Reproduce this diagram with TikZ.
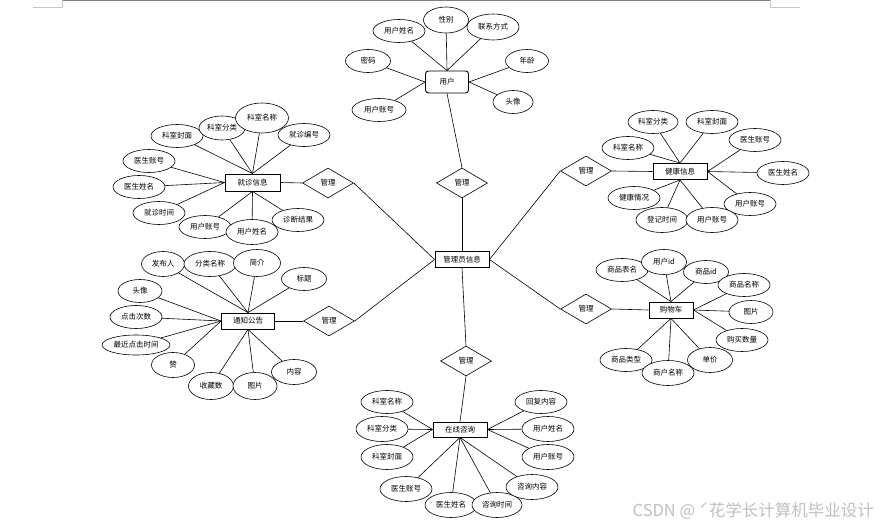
\documentclass[tikz,border=0pt]{standalone}
\usepackage{fontspec}
\newfontfamily\cjk{Noto Sans CJK SC}
\usepackage{tikz}
\usetikzlibrary{shapes.geometric}

\tikzset{
  ent/.style={draw, line width=0.9pt, minimum width=54pt, minimum height=16pt, inner sep=1pt, font=\cjk\fontsize{7.5}{8}\selectfont},
  attr/.style={draw, fill=white, ellipse, line width=0.6pt, minimum width=52pt, minimum height=23pt, inner sep=0pt, font=\cjk\fontsize{7.5}{8}\selectfont},
  rel/.style={draw, fill=white, diamond, line width=0.6pt, minimum width=51pt, minimum height=30pt, inner sep=0pt, font=\cjk\fontsize{7.5}{8}\selectfont},
  link/.style={line width=0.6pt}
}

\begin{document}
\begin{tikzpicture}[x=1pt, y=-1pt]
  \useasboundingbox (0,0) rectangle (882,529);
  \draw[line width=1.5pt, gray] (62,0.75) -- (770,0.75);
  \draw[line width=0.8pt, gray!45] (33,7) -- (62,7) -- (62,0);
  \draw[line width=0.8pt, gray!45] (770,0) -- (770,7) -- (800,7);

  \node[ent] (admin) at (462,259.5) {管理员信息};
  \node[rel] (dtop) at (462,183) {管理};
  \node[rel] (dlu) at (328,183) {管理};
  \node[rel] (dru) at (586,171) {管理};
  \node[rel] (dll) at (329,321) {管理};
  \node[rel] (drl) at (586,309) {管理};
  \node[rel] (dbot) at (466,361) {管理};

  \node[ent, rounded corners=3pt, minimum width=43pt, minimum height=22pt] (yh) at (447,82) {用户};
  \node[attr] (yh1) at (399,31) {用户姓名};
  \node[attr, minimum width=45pt, minimum height=26pt] (yh2) at (446,20) {性别};
  \node[attr, minimum height=26pt] (yh3) at (493,27) {联系方式};
  \node[attr, minimum width=45pt] (yh4) at (368,61) {密码};
  \node[attr, minimum width=43pt] (yh5) at (527,61) {年龄};
  \node[attr, minimum width=54pt] (yh6) at (379,110) {用户账号};
  \node[attr, minimum width=40pt] (yh7) at (513,102) {头像};

  \node[ent, minimum width=55pt, minimum height=17pt] (jz) at (252.5,182.5) {就诊信息};
  \node[attr] (jz1) at (177,136) {科室封面};
  \node[attr, minimum width=46pt, minimum height=24pt] (jz2) at (222,128) {科室分类};
  \node[attr, minimum width=53pt, minimum height=30pt] (jz3) at (262,118) {科室名称};
  \node[attr] (jz4) at (304,135) {就诊编号};
  \node[attr] (jz5) at (149,161) {医生账号};
  \node[attr] (jz6) at (139,187) {医生姓名};
  \node[attr] (jz7) at (159,213) {就诊时间};
  \node[attr] (jz8) at (205,227) {用户账号};
  \node[attr, minimum height=25pt] (jz9) at (252,232) {用户姓名};
  \node[attr] (jz10) at (298,220) {诊断结果};

  \node[ent] (jk) at (680,171.5) {健康信息};
  \node[attr, minimum width=50pt] (jk1) at (653,122) {科室分类};
  \node[attr] (jk2) at (712,122) {科室封面};
  \node[attr] (jk3) at (755,140) {医生账号};
  \node[attr] (jk4) at (628,148) {科室名称};
  \node[attr] (jk5) at (783,173) {医生姓名};
  \node[attr] (jk6) at (634,198) {健康情况};
  \node[attr] (jk9) at (750,204) {用户账号};
  \node[attr, minimum height=25pt] (jk7) at (662,220) {登记时间};
  \node[attr, minimum height=25pt] (jk8) at (712,220) {用户账号};

  \node[ent, minimum width=53pt] (tz) at (248,321) {通知公告};
  \node[attr, minimum width=43pt, minimum height=25pt] (tz1) at (163,264) {发布人};
  \node[attr, minimum height=25pt] (tz2) at (210,264) {分类名称};
  \node[attr, minimum width=47pt, minimum height=27pt] (tz3) at (257,263) {简介};
  \node[attr, minimum width=45pt] (tz4) at (304,279) {标题};
  \node[attr, minimum width=44pt] (tz5) at (140,291) {头像};
  \node[attr] (tz6) at (136,317) {点击次数};
  \node[attr, minimum width=68pt, minimum height=20pt] (tz7) at (136,345) {最近点击时间};
  \node[attr, minimum width=43pt, minimum height=25pt] (tz8) at (173,365) {赞};
  \node[attr, minimum width=45pt, minimum height=27pt] (tz9) at (211,386) {收藏数};
  \node[attr, minimum width=44pt, minimum height=27pt] (tz10) at (255,386) {图片};
  \node[attr, minimum width=45pt, minimum height=25pt] (tz11) at (294,372) {内容};

  \node[ent, minimum width=44pt] (gw) at (671,310) {购物车};
  \node[attr] (gw1) at (622,270) {商品表名};
  \node[attr, minimum width=45pt, minimum height=25pt] (gw2) at (664,262) {用户id};
  \node[attr, minimum width=45pt] (gw3) at (706,272) {商品id};
  \node[attr] (gw4) at (744,285) {商品名称};
  \node[attr, minimum width=44pt] (gw5) at (751,312) {图片};
  \node[attr] (gw6) at (742,340) {购买数量};
  \node[attr] (gw9) at (626,360) {商品类型};
  \node[attr, minimum width=45pt, minimum height=25pt] (gw7) at (710,360) {单价};
  \node[attr, minimum height=25pt] (gw8) at (668,373) {商户名称};

  \node[ent, minimum height=15pt] (zx) at (460,429.5) {在线咨询};
  \node[attr] (zx1) at (387,402) {科室名称};
  \node[attr, minimum height=25pt] (zx2) at (382,429) {科室分类};
  \node[attr, minimum height=25pt] (zx3) at (387,457) {科室封面};
  \node[attr, minimum height=25pt] (zx4) at (406,489) {医生账号};
  \node[attr, minimum height=25pt] (zx5) at (451,505) {医生姓名};
  \node[attr, minimum width=50pt, minimum height=25pt] (zx6) at (497,505) {咨询时间};
  \node[attr, minimum height=25pt] (zx7) at (532,487) {咨询内容};
  \node[attr, minimum height=25pt] (zx8) at (548,457) {用户账号};
  \node[attr, minimum height=25pt] (zx9) at (548,429) {用户姓名};
  \node[attr] (zx10) at (541,402) {回复内容};

  \draw[link] (dtop.south) -- (admin.north);
  \draw[link] (dlu.east) -- (admin.west);
  \draw[link] (dll.east) -- (admin.west);
  \draw[link] (dru.west) -- (admin.east);
  \draw[link] (drl.west) -- (admin.east);
  \draw[link] (dbot.north) -- (admin.south);

  \draw[link] (yh.south) -- (dtop.north);
  \draw[link] (jz.east) -- (dlu.west);
  \draw[link] (jk.west) -- (dru.east);
  \draw[link] (tz.east) -- (dll.west);
  \draw[link] (gw.west) -- (drl.east);
  \draw[link] (zx.north) -- (dbot.south);

  \foreach \a in {yh1,yh2,yh3} \draw[link] (\a) -- (yh.north);
  \foreach \a in {yh4,yh6} \draw[link] (\a) -- (yh.west);
  \foreach \a in {yh5,yh7} \draw[link] (\a) -- (yh.east);

  \foreach \a in {jz1,jz2,jz3,jz4} \draw[link] (\a) -- (jz.north);
  \foreach \a in {jz5,jz6,jz7} \draw[link] (\a) -- (jz.west);
  \foreach \a in {jz8,jz9,jz10} \draw[link] (\a) -- (jz.south);

  \foreach \a in {jk1,jk2,jk4} \draw[link] (\a) -- (jk.north);
  \foreach \a in {jk3,jk5,jk9} \draw[link] (\a) -- (jk.east);
  \foreach \a in {jk6,jk7,jk8} \draw[link] (\a) -- (jk.south);

  \foreach \a in {tz1,tz2,tz3,tz4} \draw[link] (\a) -- (tz.north);
  \foreach \a in {tz5,tz6,tz7,tz8} \draw[link] (\a) -- (tz.west);
  \foreach \a in {tz9,tz10,tz11} \draw[link] (\a) -- (tz.south);

  \foreach \a in {gw1,gw2,gw3} \draw[link] (\a) -- (gw.north);
  \foreach \a in {gw4,gw5,gw6} \draw[link] (\a) -- (gw.east);
  \foreach \a in {gw7,gw8,gw9} \draw[link] (\a) -- (gw.south);

  \foreach \a in {zx1,zx2,zx3} \draw[link] (\a) -- (zx.west);
  \foreach \a in {zx4,zx5,zx6,zx7} \draw[link] (\a) -- (zx.south);
  \foreach \a in {zx8,zx9,zx10} \draw[link] (\a) -- (zx.east);

  \node[text=gray!50, font=\cjk\fontsize{16.5}{18}\selectfont, anchor=east, inner sep=0pt] (wm) at (874,511) {CSDN @ ˊ花学长计算机毕业设计};
\end{tikzpicture}
\end{document}
